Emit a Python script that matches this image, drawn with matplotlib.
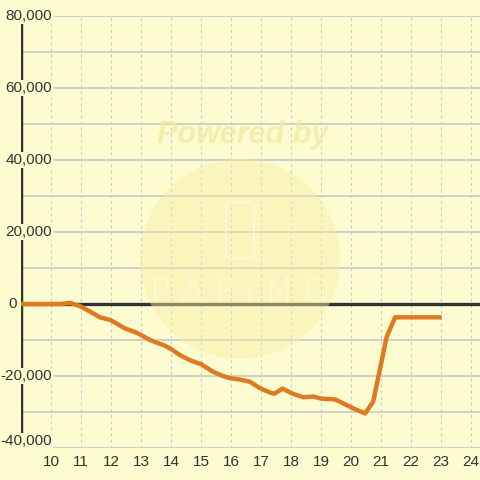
import matplotlib
matplotlib.use("Agg")
import matplotlib.pyplot as plt
from matplotlib.patches import Circle, FancyBboxPatch

# Data
hours = [9.0, 9.5, 10.0, 10.33, 10.63, 10.97, 11.3, 11.63, 11.97, 12.2, 12.47, 12.8,
         13.0, 13.3, 13.8, 14.0, 14.3, 14.6, 14.86, 15.0, 15.4, 15.7, 15.97, 16.3,
         16.63, 16.97, 17.3, 17.45, 17.72, 18.08, 18.41, 18.74, 19.02, 19.47, 19.74,
         20.13, 20.47, 20.74, 21.19, 21.47, 22.0, 23.02]
values = [0, 0, 0, 0, 300, -600, -2100, -3700, -4400, -5500, -6800, -7800,
          -8600, -10000, -11600, -12500, -14200, -15500, -16300, -16700, -18800, -19900,
          -20600, -21000, -21600, -23400, -24600, -24900, -23500, -25000, -25900, -25700,
          -26300, -26500, -27600, -29200, -30400, -27100, -9100, -3700, -3700, -3700]
x_ticks = list(range(10, 25))
y_ticks = [-40000, -20000, 0, 20000, 40000, 60000, 80000]
y_grid = list(range(-40000, 80001, 10000))

bg = "#fcfcd0"
fig = plt.figure(figsize=(4.8, 4.8), dpi=100, facecolor=bg)

# watermark
fig.patches.append(Circle((240/480, 1-259/480), 100/480, transform=fig.transFigure,
                          facecolor="#f8eea4", edgecolor="none", alpha=0.45, zorder=0))
fig.patches.append(FancyBboxPatch((226/480, 1-258/480), 28/480, 56/480,
                                  boxstyle="round,pad=0,rounding_size=0.006",
                                  transform=fig.transFigure, facecolor="none",
                                  edgecolor="#fffbe0", lw=1.2, alpha=0.8, zorder=0))
fig.text(243/480, 1-135/480, "Powered by", ha="center", va="center", fontsize=22,
         fontweight="bold", style="italic", color="#f2e8a0", alpha=0.7,
         family="Liberation Sans", zorder=0)
fig.text(240/480, 1-292/480, "P A P i M O", ha="center", va="center", fontsize=24,
         color="#fffbe0", alpha=0.7, family="DejaVu Sans", fontweight="light", zorder=0)

ax = fig.add_axes([21/480, 32/480, 459/480, 432/480])
ax.set_facecolor("none")
ax.set_xlim(9.0, 24.3)
ax.set_ylim(-40000, 80000)
for s in ax.spines.values():
    s.set_visible(False)
ax.set_xticks([])
ax.set_yticks([])

for yv in y_grid:
    ax.axhline(yv, color="#c8c8cc", lw=1.2, zorder=1)
for xv in x_ticks:
    ax.axvline(xv, color="#c8c8d0", lw=0.8, ls=(0, (2.5, 3)), zorder=1)

ax.axvline(9.0, color="#333333", lw=3.2, zorder=2)
ax.axhline(0, color="#333333", lw=2.4, zorder=2)

ax.plot(hours, values, color="#e07a22", lw=3.2, solid_joinstyle="round",
        solid_capstyle="butt", zorder=3)

font = dict(family="Liberation Sans", fontsize=11, color="#333333")
for yv in y_ticks:
    if yv == 0:
        ax.text(8.86, 0, "0", ha="right", va="center", zorder=4, clip_on=False, **font)
        continue
    va = "bottom" if yv == -40000 else "center"
    ax.text(10.03, yv, f"{yv:,}", ha="right", va=va, zorder=4,
            bbox=dict(facecolor=bg, edgecolor="none", pad=0.5), **font)
for xv in x_ticks:
    ax.text(xv, -40000 - 14*20000/72, str(xv), ha="center", va="center",
            zorder=4, **font)

fig.savefig("out.png", dpi=100, facecolor=bg)
